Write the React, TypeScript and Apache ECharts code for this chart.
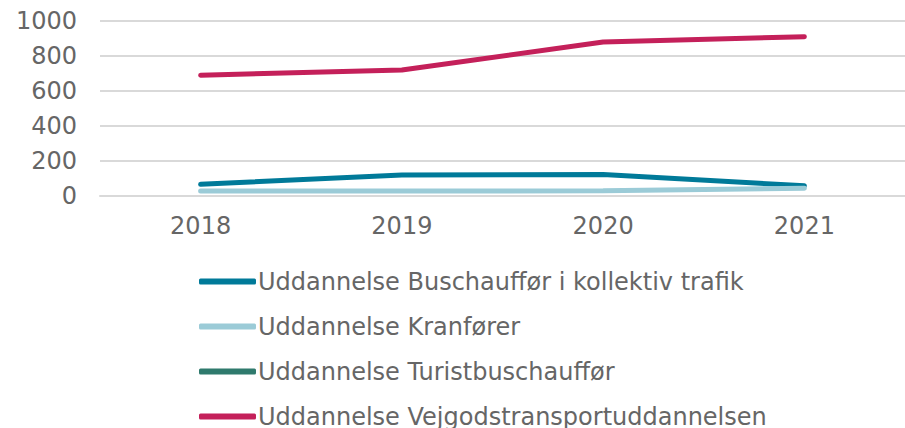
import React, { useEffect, useRef } from "react";
import * as echarts from "echarts";

const years = ["2018", "2019", "2020", "2021"];
const busChauffoer = [67, 120, 123, 58];
const kranfoerer = [28, 28, 30, 44];
const turistbus: (number | null)[] = [null, null, null, null];
const vejgods = [690, 720, 880, 910];

const names = [
  "Uddannelse Buschauffør i kollektiv trafik",
  "Uddannelse Kranfører",
  "Uddannelse Turistbuschauffør",
  "Uddannelse Vejgodstransportuddannelsen",
];
const colors = ["#007A99", "#9BCBD7", "#2F7A6D", "#C4205A"];
const yTicks = [0, 200, 400, 600, 800, 1000];

export default function App() {
  const ref = useRef<HTMLDivElement>(null);
  useEffect(() => {
    document.body.style.margin = "0";
    const chart = echarts.init(ref.current!, null, { renderer: "svg" });
    const font = "DejaVu Sans";
    const dataSets = [busChauffoer, kranfoerer, turistbus, vejgods];
    chart.setOption({
      animation: false,
      grid: { left: 100, top: 21, width: 830, height: 175, containLabel: false },
      xAxis: {
        type: "category",
        data: years,
        boundaryGap: true,
        axisLine: { show: true, lineStyle: { color: "#D9D9D9", width: 2 } },
        axisTick: { show: false },
        axisLabel: { color: "#666666", fontSize: 24, fontFamily: font, margin: 18 },
      },
      yAxis: {
        type: "value",
        min: yTicks[0],
        max: yTicks[yTicks.length - 1],
        interval: 200,
        axisLine: { show: false },
        axisTick: { show: false },
        splitLine: { lineStyle: { color: "#D9D9D9", width: 2 } },
        axisLabel: {
          color: "#666666",
          fontSize: 24,
          fontFamily: font,
          margin: 23,
          formatter: (v: number) => String(v),
        },
      },
      legend: {
        orient: "vertical",
        left: 199,
        top: 267,
        padding: 0,
        itemWidth: 57,
        itemHeight: 6,
        itemGap: 16,
        height: 200,
        textStyle: {
          color: "#666666",
          fontSize: 24,
          fontFamily: font,
          lineHeight: 29,
          padding: [0, 0, 0, -3],
        },
        data: names.map((n, i) => ({
          name: n,
          icon: "roundRect",
          itemStyle: { color: colors[i] },
        })),
      },
      series: names.map((n, i) => ({
        name: n,
        type: "line",
        data: dataSets[i],
        symbol: "none",
        lineStyle: { color: colors[i], width: 5, cap: "round" },
        itemStyle: { color: colors[i] },
      })),
    });
    return () => chart.dispose();
  }, []);
  return <div ref={ref} style={{ width: 905, height: 428 }} />;
}
